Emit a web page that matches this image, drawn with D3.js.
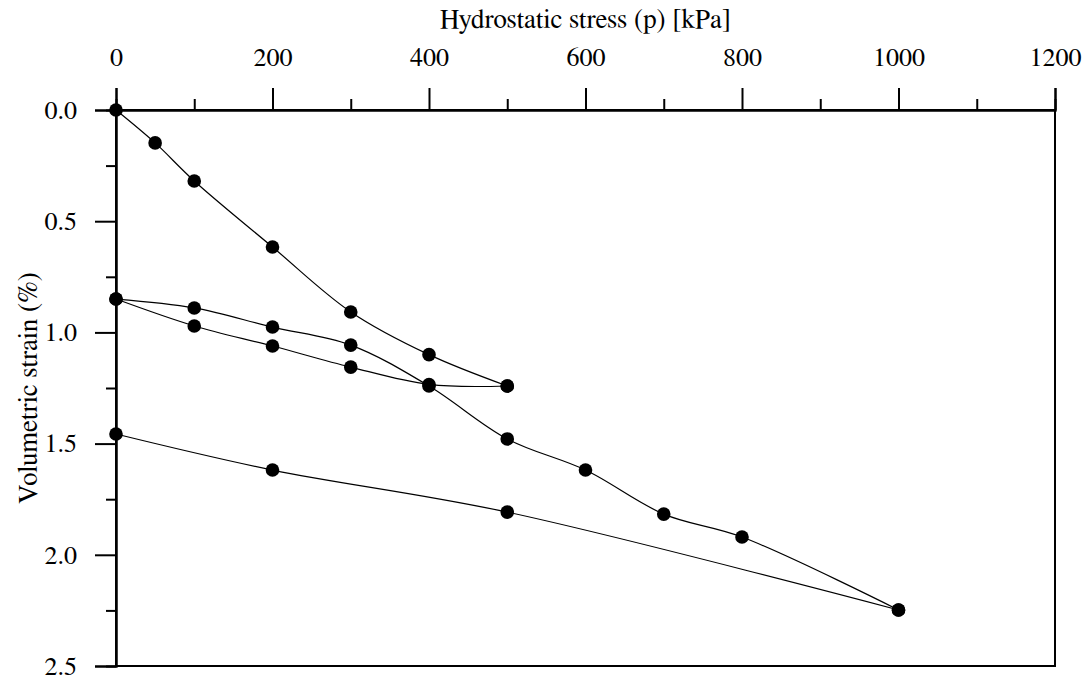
<!DOCTYPE html>
<html>
<head>
<meta charset="utf-8">
<script src="https://cdn.jsdelivr.net/npm/d3@7"></script>
<style>
  html, body { margin: 0; padding: 0; background: #fff; }
  svg { display: block; }
</style>
</head>
<body>
<svg id="chart" width="1089" height="681"></svg>
<script>
// ---- Data ----
const xMajorTicks = [0, 200, 400, 600, 800, 1000, 1200];
const xMinorTicks = [100, 300, 500, 700, 900, 1100];
const yMajorTicks = [0, 0.5, 1.0, 1.5, 2.0, 2.5];
const yMinorTicks = [0.25, 0.75, 1.25, 1.75, 2.25];

const load1P   = [0, 50, 100, 200, 300, 400, 500];
const load1E   = [0, 0.148, 0.319, 0.616, 0.908, 1.10, 1.241];
const unload1P = [500, 400, 300, 200, 100, 0];
const unload1E = [1.241, 1.234, 1.156, 1.061, 0.971, 0.85];
const reloadP  = [0, 100, 200, 300, 400, 500, 600, 700, 800, 1000];
const reloadE  = [0.85, 0.89, 0.976, 1.057, 1.241, 1.479, 1.619, 1.817, 1.92, 2.248];
const unload2P = [1000, 500, 200, 0];
const unload2E = [2.248, 1.808, 1.619, 1.457];

const series = [
  { p: load1P, e: load1E },
  { p: unload1P, e: unload1E },
  { p: reloadP, e: reloadE },
  { p: unload2P, e: unload2E }
];

const FONT = 'FreeSerif, "Liberation Serif", "Times New Roman", serif';

// ---- Layout ----
const svg = d3.select("#chart");
const x = d3.scaleLinear().domain([0, 1200]).range([116, 1055]);
const y = d3.scaleLinear().domain([0, 2.5]).range([110, 666]);

// frame (right + bottom)
svg.append("rect")
  .attr("x", x(0)).attr("y", y(0))
  .attr("width", x(1200) - x(0)).attr("height", y(2.5) - y(0))
  .attr("fill", "none").attr("stroke", "#000").attr("stroke-width", 2);

// top axis
const gx = svg.append("g").attr("transform", `translate(0,${y(0)})`);
gx.call(d3.axisTop(x).tickValues(xMajorTicks).tickSize(22).tickPadding(22).tickFormat(d3.format("d")));
const gxm = svg.append("g").attr("transform", `translate(0,${y(0)})`);
gxm.call(d3.axisTop(x).tickValues(xMinorTicks).tickSize(11).tickFormat(""));

// left axis
const gy = svg.append("g").attr("transform", `translate(${x(0)},0)`);
gy.call(d3.axisLeft(y).tickValues(yMajorTicks).tickSize(21).tickPadding(18).tickFormat(d3.format(".1f")));
const gym = svg.append("g").attr("transform", `translate(${x(0)},0)`);
gym.call(d3.axisLeft(y).tickValues(yMinorTicks).tickSize(10).tickFormat(""));

[gx, gxm, gy, gym].forEach(g => {
  g.attr("font-family", FONT).attr("font-size", 26);
  g.selectAll(".domain").attr("stroke", "#000").attr("stroke-width", 2);
  g.selectAll(".tick line").attr("stroke", "#000").attr("stroke-width", 2);
  g.selectAll(".tick text")
    .style("font-family", FONT)
    .style("font-size", "26px").attr("fill", "#000");
});

// axis titles
svg.append("text")
  .attr("x", (x(0) + x(1200)) / 2).attr("y", 28)
  .attr("text-anchor", "middle")
  .style("font-family", FONT).style("font-size", "27px")
  .text("Hydrostatic stress (p) [kPa]");

svg.append("text")
  .attr("transform", `translate(37,${(y(0) + y(2.5)) / 2}) rotate(-90)`)
  .attr("text-anchor", "middle")
  .style("font-family", FONT).style("font-size", "27px")
  .text("Volumetric strain (%)");

// curves
const line = d3.line()
  .x(d => x(d[0])).y(d => y(d[1]))
  .curve(d3.curveCatmullRom.alpha(0.5));

series.forEach(s => {
  const pts = s.p.map((p, i) => [p, s.e[i]]);
  svg.append("path").datum(pts)
    .attr("d", line).attr("fill", "none")
    .attr("stroke", "#000").attr("stroke-width", 1.2);
});

// markers
series.forEach(s => {
  const pts = s.p.map((p, i) => [p, s.e[i]]);
  svg.append("g").selectAll("circle").data(pts).join("circle")
    .attr("cx", d => x(d[0])).attr("cy", d => y(d[1]))
    .attr("r", 6.8).attr("fill", "#000");
});
</script>
</body>
</html>
